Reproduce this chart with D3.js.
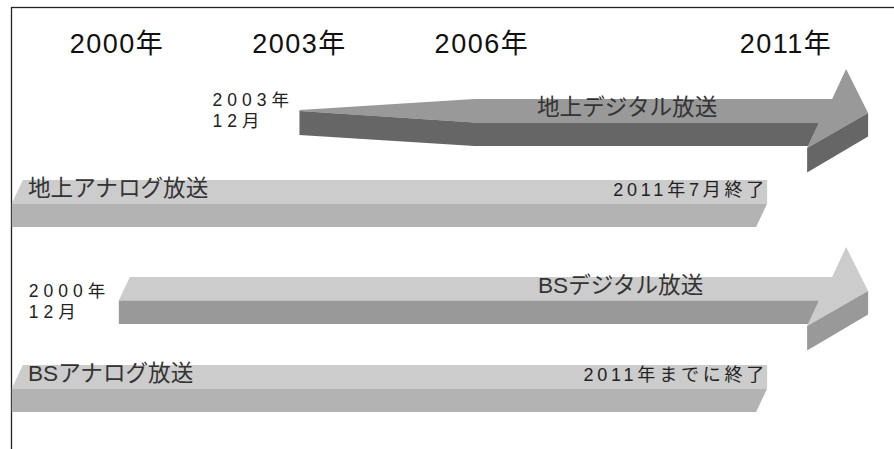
<!DOCTYPE html>
<html><head><meta charset="utf-8">
<script src="https://cdn.jsdelivr.net/npm/d3@7"></script>
<style>html,body{margin:0;padding:0;background:#fff;overflow:hidden}</style>
</head><body>
<svg id="c" width="894" height="449"></svg>
<script>
// ---- data ----
const yearTicks = [2000, 2003, 2006, 2011];
const yearLabels = ["2000年", "2003年", "2006年", "2011年"];
const services = ["地上デジタル放送", "地上アナログ放送", "BSデジタル放送", "BSアナログ放送"];
const startYears = [2003, 1998.27, 2000.03, 1998.27];
const endYears = [2012.35, 2010.69, 2012.35, 2010.69];
const kinds = ["arrow", "bar", "arrow", "bar"];
const startNotes = [["2003年", "12月"], null, ["2000年", "12月"], null];
const endNotes = [null, "2011年7月終了", null, "2011年までに終了"];

// ---- layout ----
const svg = d3.select("#c");
const x = d3.scaleLinear().domain([2000, 2011]).range([117, 786]);
const rowTop = d3.scaleOrdinal().domain(services).range([99, 180, 277, 365]);
const fillTop = d3.scaleOrdinal().domain(services).range(["#999999", "#cccccc", "#cccccc", "#cccccc"]);
const fillFront = d3.scaleOrdinal().domain(services).range(["#666666", "#b3b3b3", "#999999", "#b3b3b3"]);
const FONT = "'Liberation Sans', Arial, 'Noto Sans CJK JP', sans-serif";
const line = d3.line();
const DX = 11, DY = 23.5, FH = 23.5;

// frame
svg.append("rect").attr("x", 11.5).attr("y", 7.5).attr("width", 1000).attr("height", 1000)
  .attr("fill", "none").attr("stroke", "#222").attr("stroke-width", 1.3);

// year labels
svg.selectAll("text.year").data(yearTicks).join("text")
  .attr("class", "year")
  .attr("x", d => x(d)).attr("y", 53)
  .attr("text-anchor", "middle")
  .attr("font-family", FONT).attr("font-size", 27).attr("letter-spacing", 1.5)
  .attr("fill", "#111")
  .text((d, i) => yearLabels[i]);

services.forEach((s, i) => {
  const g = svg.append("g");
  const T = rowTop(s);
  const F = T + DY, B = F + FH;
  const x0 = x(startYears[i]);
  const x1 = x(endYears[i]);
  if (kinds[i] === "bar") {
    const top = [[x0, F], [x0 + DX, T], [x1, T], [x1, F]];
    const front = [[x0, F], [x1, F], [x1 - DX, B], [x0, B]];
    g.append("path").attr("d", line(top) + "Z").attr("fill", fillTop(s));
    g.append("path").attr("d", line(front) + "Z").attr("fill", fillFront(s));
  } else {
    const tip = x1;
    const hb = tip - 36, ht = tip - 22, hl = tip - 61, sr = tip - 49;
    const taper = i === 0;
    let top, front;
    if (taper) {
      const xt = x0 + 175;
      top = [[x0, T + 11], [xt, T], [hb, T], [ht, T - 30], [tip, T + 14], [hl, T + 49], [sr, F], [xt, F], [x0, T + 12]];
      front = [[x0, T + 12], [xt, F], [sr, F], [sr - DX, B], [xt, B], [x0, T + 36]];
    } else {
      top = [[x0, F], [x0 + DX, T], [hb, T], [ht, T - 30], [tip, T + 14], [hl, T + 49], [sr, F]];
      front = [[x0, F], [sr, F], [sr - DX, B], [x0, B]];
    }
    const headFront = [[hl, T + 49], [tip, T + 14], [tip, T + 37.5], [hl, T + 73.5]];
    g.append("path").attr("d", line(top) + "Z").attr("fill", fillTop(s));
    g.append("path").attr("d", line(front) + "Z").attr("fill", fillFront(s));
    g.append("path").attr("d", line(headFront) + "Z").attr("fill", fillFront(s));
  }
  // service name
  const isArrow = kinds[i] === "arrow";
  svg.append("text")
    .attr("x", isArrow ? (i === 0 ? 537 : 538) : 28)
    .attr("y", T + 16)
    .attr("font-family", FONT).attr("font-size", 22.6)
    .attr("fill", "#333")
    .text(s);
  // start note
  if (startNotes[i]) {
    const t = svg.append("text")
      .attr("font-family", FONT).attr("font-size", 17.5).attr("letter-spacing", 5)
      .attr("fill", "#222");
    const bx = x0 - (i === 0 ? 87 : 90);
    const by = i === 0 ? 106 : 297;
    startNotes[i].forEach((ln, k) => {
      t.append("tspan").attr("x", bx).attr("y", by + k * 21).text(ln);
    });
  }
  // end note
  if (endNotes[i]) {
    svg.append("text")
      .attr("x", x1 + 1).attr("y", T + 16)
      .attr("text-anchor", "end")
      .attr("font-family", FONT).attr("font-size", 18).attr("letter-spacing", 3.8)
      .attr("fill", "#222")
      .text(endNotes[i]);
  }
});
</script>
</body></html>
